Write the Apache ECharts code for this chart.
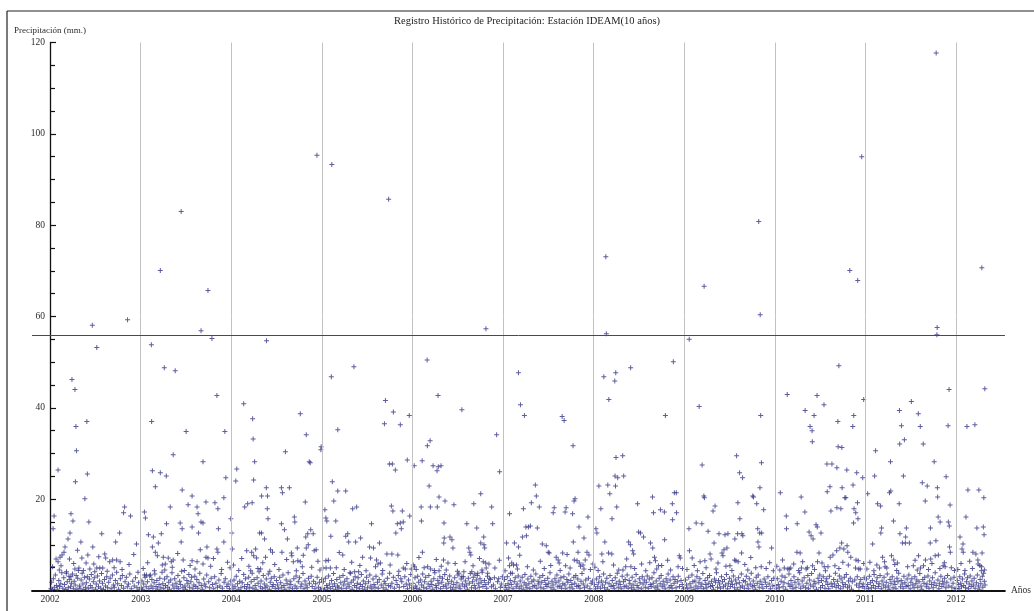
<!DOCTYPE html>
<html>
<head>
<meta charset="utf-8">
<title>Registro Histórico de Precipitación</title>
<script src="https://cdn.jsdelivr.net/npm/echarts@6/dist/echarts.min.js"></script>
<style>
  html, body { margin: 0; padding: 0; background: #ffffff; }
  #chart { width: 1034px; height: 611px; }
</style>
</head>
<body>
<div id="chart"></div>
<script>
// Daily precipitation (mm) per year, as [day of year, mm].
const years = [2002, 2003, 2004, 2005, 2006, 2007, 2008, 2009, 2010, 2011, 2012];
const referenceLevel = 56;

const rain2002 = [
  [170,58.1],[188,53.2],[312,59.3],[88,46.2],[100,44.0],[32,26.4],[104,35.9],[148,37.0],[106,30.6],[150,25.5],
  [102,23.8],[140,20.1],[16,16.3],[12,13.5],[84,16.8],[92,15.2],[80,12.6],[72,11.3],[60,9.5],[24,6.9],
  [32,6.3],[40,7.3],[48,7.8],[78,6.9],[44,5.4],[124,10.6],[156,15.0],[172,9.5],[128,7.1],[152,7.8],
  [208,12.4],[220,8.0],[280,12.6],[264,10.6],[300,18.3],[296,17.0],[324,16.3],[348,10.2],[252,6.7],[268,6.7],
  [282,6.3],[224,7.1],[240,6.3],[188,4.9],[200,4.9],[212,4.9],[180,4.1],[160,4.7],[100,4.7],[116,4.9],[84,3.0],
  [10,5.2],[37,4.5],[56,8.4],[65,3.8],[95,5.9],[110,8.8],[134,4.4],[145,6.0],[176,5.8],[196,7.4],[230,4.2],
  [258,5.0],[290,4.6],[318,5.7],[337,7.9],[354,4.0],
  [3,0.4],[6,1.8],[9,0.2],[13,2.6],[17,0.7],[21,3.4],[26,1.1],[29,0.3],[35,2.2],[38,0.9],[43,1.5],[47,3.9],
  [51,0.5],[55,2.8],[58,1.3],[63,0.2],[66,4.1],[69,1.9],[73,0.6],[76,3.1],[79,2.4],[82,0.8],[86,1.6],[90,3.6],
  [94,0.4],[97,2.0],[101,1.2],[105,3.3],[108,0.3],[111,2.7],[114,4.4],[118,1.0],[121,0.5],[125,2.3],[129,3.8],
  [132,1.4],[136,0.2],[139,2.9],[143,0.7],[146,1.7],[150,3.0],[154,0.4],[158,2.5],[162,1.1],[166,3.5],[169,0.6],
  [174,1.9],[178,2.8],[183,0.3],[186,1.4],[191,3.2],[195,0.8],[199,2.1],[204,0.5],[207,3.7],[211,1.6],[215,0.2],
  [219,2.4],[223,1.0],[228,3.0],[232,0.6],[236,1.8],[242,2.7],[246,0.4],[251,3.4],[255,1.2],[259,0.7],[263,2.2],
  [268,4.0],[272,1.5],[276,0.3],[283,2.6],[287,1.1],[291,3.3],[296,0.5],[302,1.9],[307,2.9],[311,0.8],[316,1.4],
  [321,3.6],[327,0.4],[333,2.0],[339,1.0],[344,2.8],[350,0.6],[356,1.7],[361,0.3]
];

const rain2003 = [
  [79,70.1],[163,83.0],[271,65.7],[243,56.9],[287,55.2],[43,53.8],[95,48.8],[139,48.1],[44,37.0],[183,34.8],
  [339,34.8],[307,42.7],[131,29.7],[251,28.2],[47,26.2],[79,25.8],[103,25.1],[59,22.7],[167,22.0],[207,20.7],
  [335,20.3],[343,24.7],[15,17.2],[19,15.9],[31,12.2],[51,11.7],[83,12.4],[47,9.5],[59,8.4],[71,10.4],
  [104,14.6],[119,18.3],[159,14.8],[167,13.5],[163,10.6],[191,18.8],[207,13.9],[227,18.3],[231,16.8],[233,12.6],
  [243,15.0],[251,14.8],[263,19.4],[267,9.5],[299,19.2],[311,17.9],[313,13.5],[335,10.6],[307,9.1],[311,8.4],
  [363,15.7],[91,7.3],[111,7.1],[123,6.3],[99,5.8],[87,5.6],[131,6.7],[171,6.7],[207,6.5],[227,6.3],
  [251,5.8],[263,7.3],[271,7.1],[15,3.4],[23,3.4],[39,3.4],
  [10,4.8],[28,6.1],[55,4.3],[67,7.6],[97,4.5],[127,5.1],[149,8.1],[176,4.4],[199,5.5],[219,4.7],[240,8.9],
  [282,5.3],[293,7.0],[326,4.6],[350,6.2],[360,5.0],
  [2,0.6],[5,2.1],[8,0.3],[12,1.4],[18,2.9],[22,0.8],[27,1.9],[33,0.4],[36,3.2],[42,1.0],[45,2.4],[49,0.5],
  [54,1.7],[57,3.6],[62,0.9],[65,2.2],[68,0.3],[74,1.3],[77,2.7],[81,0.6],[86,4.0],[89,1.5],[93,0.4],[96,2.5],
  [100,1.1],[106,3.0],[109,0.7],[113,1.8],[116,0.3],[121,2.3],[126,3.9],[129,1.2],[134,0.5],[137,2.6],[142,1.6],
  [146,0.8],[150,3.3],[153,0.4],[157,2.0],[161,1.3],[165,4.2],[170,0.6],[174,2.8],[178,1.0],[181,0.3],[186,2.2],
  [190,1.5],[194,3.5],[197,0.7],[202,1.9],[205,2.9],[210,0.4],[214,1.2],[218,3.1],[222,0.9],[226,2.4],[230,0.5],
  [235,1.7],[238,3.8],[244,1.1],[248,0.3],[254,2.5],[258,1.4],[262,0.8],[266,3.4],[274,1.9],[278,0.6],[284,2.7],
  [289,1.3],[294,0.4],[298,3.0],[303,1.6],[309,0.7],[315,2.3],[319,1.0],[324,3.7],[329,0.5],[336,1.8],[341,2.6],
  [347,0.9],[352,1.4],[358,0.4],[363,2.1]
];

const rain2004 = [
  [345,95.3],[142,54.7],[50,40.9],[86,37.6],[88,33.2],[94,28.2],[22,26.6],[18,24.0],[90,24.2],[218,30.4],
  [278,38.7],[302,34.1],[314,28.2],[318,28.0],[141,22.5],[202,22.5],[234,22.5],[206,21.4],[122,20.7],[362,31.5],
  [361,30.8],[146,20.7],[84,19.2],[54,18.3],[66,19.0],[298,19.4],[2,12.6],[4,9.1],[62,8.7],[82,8.4],
  [98,9.1],[114,12.6],[122,12.6],[134,11.3],[138,7.3],[148,15.7],[145,17.9],[90,7.6],[102,7.1],[158,8.9],
  [166,8.4],[202,14.6],[204,8.4],[214,13.3],[226,11.3],[242,8.2],[244,7.6],[254,16.1],[256,15.0],[266,9.3],
  [268,6.5],[302,9.3],[310,10.0],[334,8.7],[342,8.9],[300,11.7],[308,12.4],[330,12.4],[320,13.3],[278,6.3],
  [286,5.2],[250,6.3],[78,4.3],[118,4.7],
  [9,5.6],[30,4.4],[42,7.0],[71,5.3],[107,4.8],[127,6.1],[155,4.2],[175,5.7],[192,4.6],[223,6.8],[262,4.3],
  [290,7.7],[324,5.1],[349,6.4],[357,4.5],
  [3,1.2],[7,0.4],[11,2.3],[15,0.8],[20,3.1],[25,1.5],[28,0.3],[34,2.0],[39,0.6],[44,1.7],[50,3.5],[53,0.9],
  [57,2.6],[61,0.4],[66,1.3],[70,2.9],[74,0.7],[80,1.9],[84,3.8],[87,0.5],[92,2.4],[96,1.1],[100,0.3],[104,2.8],
  [108,1.6],[112,4.1],[117,0.8],[120,2.1],[125,0.4],[129,3.3],[133,1.4],[137,0.6],[141,2.5],[144,1.0],[149,3.6],
  [153,0.3],[157,1.8],[161,2.7],[165,0.9],[169,1.3],[173,3.0],[177,0.5],[182,2.2],[186,1.2],[190,0.4],[195,2.9],
  [199,1.7],[203,0.7],[208,3.4],[212,1.1],[216,0.3],[221,2.3],[225,1.5],[229,3.9],[233,0.6],[237,2.0],[240,1.3],
  [247,0.4],[252,2.6],[257,1.0],[261,3.2],[264,0.5],[270,1.9],[275,2.8],[280,0.8],[284,1.4],[289,3.7],[293,0.4],
  [297,2.1],[301,1.2],[306,0.6],[311,2.7],[315,1.6],[322,3.1],[326,0.9],[331,2.0],[337,0.4],[340,1.5],[346,2.9],
  [351,0.7],[355,1.8],[360,0.3],[364,2.4]
];

const rain2005 = [
  [40,93.3],[269,85.7],[38,46.8],[129,49.0],[256,41.6],[288,39.1],[352,38.3],[252,36.5],[316,36.3],[64,35.2],
  [42,23.8],[64,21.8],[96,21.8],[272,27.7],[284,27.7],[296,26.4],[344,28.6],[48,19.6],[56,15.2],[36,11.9],
  [124,17.9],[140,18.3],[104,12.4],[108,10.6],[136,10.6],[156,11.5],[200,14.6],[164,7.3],[192,9.5],[208,9.3],
  [232,10.4],[220,6.7],[236,6.0],[216,5.2],[280,18.5],[286,17.4],[304,14.6],[316,14.8],[328,15.0],[320,13.5],
  [298,12.6],[324,17.4],[354,16.3],[282,8.0],[306,7.8],[328,4.9],[336,4.7],[116,3.8],[132,4.1],[148,4.1],
  [84,7.8],[12,17.7],[16,15.9],[20,15.2],[96,11.9],[16,6.5],[17,4.9],[34,4.9],
  [4,4.9],[26,6.6],[58,5.0],[70,8.3],[90,4.6],[120,6.2],[153,5.5],[178,4.3],[196,7.1],[226,5.8],[245,4.4],
  [262,8.0],[275,5.6],[310,4.2],[342,5.9],[360,4.7],
  [2,0.5],[6,1.9],[10,0.3],[14,2.7],[19,1.1],[23,0.6],[27,3.2],[31,1.4],[35,0.4],[39,2.2],[44,0.9],[47,3.7],
  [51,1.5],[55,0.3],[60,2.4],[63,1.0],[68,0.6],[72,2.9],[76,1.7],[80,0.4],[85,3.3],[88,1.2],[92,2.0],[98,0.5],
  [101,2.6],[105,1.4],[110,0.8],[113,3.9],[118,1.8],[122,0.3],[127,2.3],[131,1.1],[134,3.0],[139,0.7],[143,1.6],
  [146,2.8],[151,0.4],[155,1.3],[159,3.5],[163,0.9],[167,2.1],[171,0.3],[175,1.5],[180,2.9],[184,0.6],[188,1.9],
  [193,3.4],[197,1.0],[201,0.4],[206,2.5],[210,1.3],[214,0.7],[218,3.1],[224,1.8],[227,0.5],[231,2.4],[239,1.2],
  [243,3.6],[247,0.6],[251,2.0],[255,1.5],[259,0.3],[264,2.7],[268,1.1],[273,3.8],[277,0.8],[282,1.6],[288,2.9],
  [292,0.5],[299,2.2],[303,1.3],[308,3.3],[312,0.7],[318,2.6],[322,1.9],[330,0.9],[334,3.0],[340,1.4],[345,0.4],
  [349,2.3],[353,1.2],[358,3.5],[362,0.6]
];

const rain2006 = [
  [59,50.5],[103,42.7],[199,39.6],[7,27.3],[39,28.4],[71,32.8],[60,31.7],[83,27.3],[104,27.1],[115,27.3],
  [99,26.2],[67,22.9],[107,20.5],[275,21.2],[296,57.3],[339,34.1],[351,26.0],[35,18.3],[72,18.3],[100,18.3],
  [131,19.6],[167,18.8],[36,15.2],[40,8.4],[127,14.8],[128,11.5],[126,10.4],[151,11.7],[159,11.1],[163,9.3],
  [125,6.7],[143,6.0],[219,14.6],[247,19.0],[259,13.7],[227,9.3],[231,8.4],[235,7.8],[287,11.7],[275,10.4],
  [288,10.0],[291,9.3],[285,6.3],[295,6.0],[297,4.9],[319,18.3],[323,14.6],[3,5.6],[8,5.2],[61,5.2],
  [73,4.7],[107,4.3],[187,3.8],[207,4.1],[199,3.0],[239,4.1],[251,3.6],[263,3.8],[303,3.8],[311,2.7],
  [15,4.6],[26,7.2],[47,5.0],[88,4.4],[96,6.8],[116,5.3],[136,4.5],[172,5.9],[181,4.2],[212,6.3],[244,5.4],
  [270,7.0],[280,4.5],[308,5.8],[332,4.9],[350,6.6],
  [1,1.6],[5,0.4],[10,2.8],[13,1.0],[17,0.5],[21,3.1],[25,1.8],[29,0.3],[33,2.3],[37,1.2],[41,3.6],[45,0.7],
  [49,1.9],[53,2.9],[57,0.4],[63,1.4],[66,3.3],[70,0.8],[75,2.0],[78,1.3],[82,0.3],[86,2.6],[90,3.9],[94,1.1],
  [97,0.6],[102,2.2],[106,1.5],[110,3.0],[113,0.4],[118,1.8],[121,2.7],[124,0.9],[130,3.5],[134,1.2],[138,0.5],
  [141,2.4],[146,1.6],[150,3.2],[154,0.7],[158,2.0],[162,0.3],[166,1.3],[170,2.8],[175,0.6],[179,1.7],[183,3.4],
  [188,1.0],[192,0.4],[196,2.5],[201,1.4],[205,3.0],[209,0.8],[213,2.1],[217,1.2],[221,0.3],[225,2.7],[229,1.6],
  [233,3.7],[238,0.6],[242,1.9],[245,2.9],[249,1.1],[254,0.4],[257,2.3],[261,3.3],[265,1.5],[269,0.7],[272,2.6],
  [277,1.8],[281,4.0],[284,0.9],[290,2.2],[293,1.3],[299,0.5],[302,3.1],[306,1.7],[314,2.4],[318,0.8],[326,1.2],
  [330,2.8],[334,0.4],[343,1.9],[347,2.6],[354,0.7],[358,1.4],[362,3.0]
];

const rain2007 = [
  [62,47.7],[70,40.7],[86,38.3],[238,38.1],[246,37.2],[282,31.7],[130,23.1],[134,20.7],[290,20.1],[26,16.8],
  [82,17.9],[114,19.2],[146,18.3],[14,10.4],[46,10.4],[62,9.5],[22,7.1],[26,5.4],[42,5.6],[54,5.6],
  [78,11.7],[94,12.0],[110,14.1],[102,13.9],[92,13.9],[138,13.7],[158,10.2],[174,9.8],[182,8.4],[186,8.2],
  [202,17.0],[206,18.1],[254,18.1],[250,17.2],[280,16.8],[286,19.6],[214,7.3],[222,6.7],[226,6.0],[240,8.2],
  [252,5.4],[306,13.9],[283,10.6],[287,6.7],[298,6.5],[307,6.0],[322,5.6],[326,4.7],[302,8.4],[326,11.5],
  [338,8.4],[346,7.8],[342,16.1],[30,3.8],
  [8,4.3],[35,6.0],[58,4.7],[67,7.7],[98,5.2],[122,4.5],[150,6.4],[166,4.8],[192,5.5],[230,4.4],[258,7.9],
  [270,4.9],[312,5.3],[331,6.7],[352,4.6],[362,5.8],
  [2,0.7],[6,2.4],[9,1.1],[13,0.3],[17,3.0],[20,1.5],[24,0.6],[29,2.2],[33,1.3],[37,3.8],[40,0.4],[45,1.9],
  [49,2.8],[53,0.8],[57,1.4],[61,3.2],[65,0.5],[69,2.1],[73,1.0],[77,2.9],[81,0.3],[85,1.7],[88,3.5],[92,1.2],
  [96,0.6],[100,2.5],[104,1.5],[108,0.4],[112,3.1],[116,1.9],[120,0.8],[124,2.3],[128,1.1],[132,3.6],[136,0.5],
  [141,2.0],[144,1.4],[148,2.9],[152,0.7],[156,1.8],[160,3.3],[164,0.4],[168,2.2],[172,1.3],[177,0.9],[180,2.7],
  [184,1.6],[189,3.9],[193,0.6],[197,2.0],[201,1.2],[205,0.3],[209,2.6],[213,1.7],[217,3.4],[221,0.8],[225,2.1],
  [229,1.0],[233,2.8],[236,0.5],[241,1.5],[245,3.0],[249,1.2],[253,0.4],[257,2.4],[261,1.8],[265,3.6],[269,0.7],
  [273,2.2],[277,1.3],[281,0.4],[285,2.9],[289,1.6],[293,3.3],[297,0.9],[301,2.5],[305,1.1],[310,0.5],[314,2.0],
  [318,3.7],[323,1.4],[328,0.6],[333,2.3],[339,1.0],[344,2.7],[350,0.4],[355,1.6],[360,2.1]
];

const rain2008 = [
  [49,73.1],[51,56.2],[41,46.8],[89,47.7],[85,45.9],[149,48.8],[61,41.8],[321,50.1],[289,38.3],[90,29.1],
  [117,29.5],[86,25.1],[97,24.7],[121,25.1],[21,22.9],[57,23.1],[88,22.9],[65,21.2],[237,20.5],[325,21.4],
  [29,17.9],[9,13.5],[13,12.6],[45,10.6],[33,8.0],[60,8.2],[73,8.0],[93,18.3],[74,15.7],[141,10.6],
  [148,10.0],[157,8.7],[161,8.0],[177,19.0],[181,12.8],[189,12.6],[201,11.7],[229,10.4],[238,9.3],[241,17.0],
  [269,17.7],[285,17.2],[286,11.1],[317,19.0],[318,15.5],[333,21.4],[334,17.0],[345,7.6],[349,7.1],[245,7.3],
  [249,6.5],[261,5.4],[118,4.5],[129,5.2],[150,5.2],
  [5,5.1],[18,4.4],[37,6.3],[80,5.6],[101,4.5],[133,6.9],[165,4.8],[193,5.8],[210,4.3],[226,6.1],[254,4.7],
  [274,5.5],[298,6.6],[310,4.5],[340,5.2],[358,4.8],
  [3,1.3],[7,0.4],[11,2.5],[16,0.8],[20,1.7],[24,3.0],[28,0.5],[32,2.1],[36,1.2],[40,3.6],[44,0.6],[48,1.8],
  [53,2.7],[56,0.3],[62,1.5],[66,3.3],[70,0.9],[75,2.2],[79,1.1],[83,0.4],[87,2.8],[91,1.6],[95,3.8],[99,0.7],
  [103,2.0],[107,1.3],[111,0.4],[115,3.1],[120,1.9],[123,0.8],[127,2.4],[131,1.0],[135,3.4],[139,0.5],[143,2.2],
  [146,1.5],[152,0.6],[155,2.9],[159,1.2],[163,0.3],[167,2.0],[171,3.5],[175,1.1],[179,0.6],[184,2.6],[187,1.7],
  [192,0.4],[196,3.0],[199,1.4],[204,2.3],[208,0.7],[212,1.8],[216,3.2],[220,0.5],[224,2.5],[228,1.3],[232,0.9],
  [235,2.8],[240,1.6],[243,3.9],[247,0.6],[252,2.1],[256,1.0],[259,0.3],[264,2.7],[268,1.5],[272,3.3],[276,0.8],
  [280,2.0],[284,1.2],[288,0.4],[292,2.6],[296,1.8],[300,3.6],[304,0.7],[308,2.3],[312,1.1],[316,0.5],[320,3.0],
  [324,1.6],[328,2.4],[332,0.6],[337,1.9],[341,3.1],[346,0.9],[352,2.2],[357,1.3],[362,0.4]
];

const rain2009 = [
  [20,55.0],[60,40.3],[80,66.6],[300,80.8],[306,60.4],[308,38.3],[72,27.5],[211,29.5],[223,25.8],[235,24.7],
  [311,28.0],[305,22.5],[279,20.5],[79,20.7],[81,20.3],[19,13.5],[21,8.7],[32,7.1],[48,14.8],[71,14.6],
  [96,13.0],[104,8.0],[108,6.9],[64,6.3],[83,6.5],[116,17.4],[124,18.5],[140,12.4],[164,12.2],[176,12.4],
  [152,8.2],[156,7.6],[160,8.9],[172,9.3],[120,10.4],[216,19.2],[224,15.7],[215,12.4],[232,12.4],[236,12.0],
  [204,11.3],[231,8.2],[276,20.7],[292,19.0],[320,17.7],[296,13.5],[304,12.6],[312,12.6],[297,10.6],[301,9.5],
  [310,5.2],[352,9.3],[203,6.7],[217,6.3],[184,5.4],
  [11,4.6],[40,5.5],[53,4.3],[88,5.0],[128,4.7],[136,6.0],[168,5.3],[192,4.4],[208,6.5],[244,5.7],[256,4.5],
  [268,7.2],[288,5.0],[330,4.8],[344,6.1],[359,4.3],
  [1,0.6],[5,2.3],[9,1.2],[14,0.4],[18,2.9],[23,1.5],[27,0.7],[31,3.4],[35,1.9],[39,0.3],[43,2.1],[47,1.0],
  [51,3.0],[55,0.5],[59,1.7],[63,2.6],[67,0.8],[71,1.4],[75,3.7],[78,0.4],[84,2.2],[87,1.3],[91,0.6],[94,2.8],
  [99,1.6],[102,3.3],[106,0.9],[110,2.0],[114,1.1],[118,0.3],[122,2.5],[126,1.8],[130,3.9],[134,0.7],[138,2.2],
  [142,1.4],[146,0.5],[150,3.0],[154,1.9],[158,0.8],[162,2.4],[166,1.2],[170,3.5],[174,0.4],[178,1.6],[182,2.7],
  [186,0.9],[190,2.0],[194,1.3],[198,3.2],[202,0.6],[206,2.3],[210,1.5],[214,0.3],[219,2.8],[222,1.7],[226,0.7],
  [230,3.6],[234,1.0],[238,2.2],[242,0.5],[246,1.9],[250,3.1],[254,1.2],[258,0.4],[262,2.6],[266,1.4],[270,3.8],
  [274,0.8],[278,2.1],[282,1.1],[286,0.3],[290,2.9],[294,1.6],[298,3.4],[302,0.7],[306,2.0],[313,1.3],[317,0.5],
  [322,2.5],[327,1.8],[332,0.9],[337,3.0],[342,1.4],[347,0.4],[352,2.2],[357,1.0],[361,2.7]
];

const rain2010 = [
  [302,70.1],[334,67.9],[350,95.0],[258,49.2],[50,42.9],[170,42.7],[198,40.7],[122,39.4],[158,38.3],[318,38.3],
  [254,37.0],[142,35.9],[150,35.0],[314,35.9],[151,32.6],[255,31.5],[270,31.3],[358,41.8],[210,27.7],[230,27.7],
  [250,26.9],[290,26.4],[330,25.8],[354,24.7],[315,23.1],[222,22.7],[211,21.6],[271,22.5],[282,20.3],[22,21.4],
  [106,20.5],[46,16.3],[47,13.5],[121,17.2],[90,14.6],[138,12.8],[146,12.0],[154,11.3],[166,14.4],[171,13.9],
  [186,12.6],[226,17.4],[250,18.1],[266,17.9],[286,20.3],[319,17.9],[326,17.0],[317,14.8],[335,15.7],[333,19.2],
  [89,8.4],[102,8.2],[178,8.2],[172,6.3],[223,7.3],[234,7.8],[249,8.7],[262,9.3],[269,10.4],[278,9.1],
  [291,9.8],[294,8.4],[306,7.3],[327,6.7],[336,6.5],[199,5.2],[214,5.2],[152,5.4],[126,4.7],[107,4.9],
  [38,4.9],[52,4.7],[58,4.7],[325,4.9],[338,4.7],
  [8,5.3],[20,4.5],[31,6.7],[64,4.9],[76,5.8],[96,4.4],[112,6.3],[131,5.0],[160,4.6],[190,6.0],[204,4.3],
  [242,5.4],[258,4.8],[274,6.2],[296,5.6],[344,4.7],[358,5.9],
  [2,1.1],[6,0.4],[10,2.6],[14,1.3],[18,0.6],[25,2.0],[29,3.2],[33,0.8],[37,1.7],[41,2.9],[44,0.3],[54,1.5],
  [57,3.6],[61,0.9],[65,2.2],[69,1.2],[73,0.4],[77,3.0],[81,1.8],[85,0.7],[93,2.4],[97,1.4],[100,3.9],[104,0.5],
  [110,2.1],[114,1.0],[118,2.8],[124,0.6],[129,1.6],[133,3.3],[136,0.4],[140,2.3],[144,1.2],[148,3.7],[155,0.8],
  [158,2.0],[162,1.5],[168,0.3],[174,2.7],[177,1.8],[181,3.4],[184,0.6],[188,2.2],[192,1.1],[195,3.0],[202,0.5],
  [206,1.9],[209,2.6],[213,1.3],[217,0.4],[220,3.1],[227,1.6],[231,0.9],[237,2.4],[240,1.4],[244,3.8],[247,0.7],
  [252,2.0],[256,1.1],[260,3.2],[264,0.4],[267,2.5],[273,1.7],[276,0.8],[280,2.9],[284,1.3],[288,3.5],[293,0.6],
  [297,2.1],[300,1.0],[304,2.7],[309,0.3],[312,1.9],[322,2.3],[329,1.2],[332,3.0],[339,0.7],[342,1.6],[346,2.4],
  [352,0.9],[356,1.4],[360,2.8],[363,0.5]
];

const rain2011 = [
  [285,117.7],[289,57.6],[288,56.0],[337,44.0],[137,39.4],[185,41.4],[213,38.7],[145,36.1],[221,35.9],[333,36.1],
  [138,32.1],[157,33.0],[233,32.1],[41,30.6],[101,28.2],[277,28.2],[37,25.1],[153,25.1],[325,24.9],[229,23.6],
  [249,22.9],[290,22.5],[102,21.8],[97,21.4],[291,20.5],[9,21.2],[49,19.0],[61,18.5],[29,10.2],[65,13.7],
  [62,12.6],[113,15.2],[136,19.0],[149,10.4],[161,10.4],[177,10.4],[165,13.7],[139,12.4],[162,11.7],[69,7.3],
  [77,6.3],[57,4.9],[79,5.2],[105,7.6],[114,6.7],[129,6.0],[241,19.6],[293,16.1],[301,15.0],[261,10.4],
  [284,10.9],[262,13.7],[341,18.7],[334,15.0],[338,14.1],[339,9.5],[342,8.4],[214,7.6],[242,6.7],[263,6.9],
  [281,7.6],[294,7.8],[313,5.4],[321,5.2],[193,5.4],[222,4.9],
  [6,4.7],[18,6.2],[34,4.3],[46,5.6],[86,4.9],[118,5.7],[126,4.4],[170,5.2],[200,6.6],[209,4.5],[234,5.4],
  [254,4.6],[268,5.9],[300,4.8],[318,6.1],[346,5.0],[359,4.4],
  [1,0.8],[4,2.5],[8,1.3],[12,0.4],[16,3.1],[20,1.7],[24,0.6],[28,2.2],[32,1.1],[35,3.5],[40,0.5],[44,1.9],
  [47,2.8],[52,0.9],[55,1.5],[59,3.3],[64,0.4],[67,2.1],[72,1.2],[75,2.9],[80,0.7],[84,1.8],[88,3.6],[92,1.0],
  [95,0.3],[99,2.4],[103,1.6],[108,3.0],[111,0.6],[116,2.0],[119,1.3],[123,0.4],[127,2.7],[131,1.9],[134,3.8],
  [141,0.8],[144,2.2],[148,1.4],[152,0.5],[155,3.1],[159,1.7],[164,0.9],[168,2.5],[172,1.1],[175,3.4],[180,0.4],
  [183,1.8],[187,2.6],[191,1.2],[196,0.6],[199,3.0],[203,1.5],[207,2.3],[211,0.7],[216,1.9],[219,3.7],[224,1.0],
  [227,0.3],[231,2.4],[236,1.6],[239,2.9],[245,0.8],[248,1.4],[252,3.2],[256,0.5],[259,2.1],[266,1.3],[270,2.8],
  [273,0.6],[277,1.7],[281,3.9],[285,1.1],[292,2.3],[296,0.4],[299,1.5],[304,3.1],[308,0.9],[311,2.0],[316,1.4],
  [319,2.7],[324,0.6],[328,1.8],[331,3.3],[336,1.0],[344,2.5],[348,0.7],[353,1.6],[357,2.9],[361,0.4]
];

const rain2012 = [
  [104,70.7],[116,44.2],[44,35.9],[76,36.3],[48,22.0],[92,22.0],[112,20.3],[16,11.7],[28,10.2],[40,16.1],
  [84,13.7],[110,13.9],[113,12.2],[29,8.4],[24,9.1],[68,8.4],[80,8.0],[105,8.2],[88,6.7],[89,5.8],
  [103,5.2],[115,4.5],[111,3.8],
  [7,4.6],[20,5.9],[36,4.4],[55,6.4],[66,4.8],[96,5.5],[102,4.3],
  [2,0.5],[5,2.2],[9,1.3],[12,0.4],[15,3.0],[19,1.6],[22,0.8],[26,2.5],[31,1.1],[34,3.6],[38,0.6],[42,1.9],
  [46,2.8],[50,0.4],[53,1.4],[57,3.2],[61,0.9],[64,2.1],[70,1.2],[73,2.7],[77,0.5],[82,1.7],[86,3.4],[90,1.0],
  [94,0.3],[97,2.4],[100,1.5],[106,3.1],[108,0.7],[114,2.0],[117,1.2]
];

const rainByYear = [rain2002, rain2003, rain2004, rain2005, rain2006, rain2007,
                    rain2008, rain2009, rain2010, rain2011, rain2012];

// Decimal-year x positions for every daily record
const points = [];
years.forEach((yr, i) => {
  rainByYear[i].forEach(([day, mm]) => points.push([yr + day / 365, mm]));
});

const serif = "'Liberation Serif', 'DejaVu Serif', serif";
const textColor = '#2b2b2b';

const chart = echarts.init(document.getElementById('chart'), null, { renderer: 'canvas' });

chart.setOption({
  backgroundColor: '#ffffff',
  animation: false,
  title: {
    text: 'Registro Histórico de Precipitación: Estación IDEAM(10 años)',
    left: 527,
    top: 16,
    padding: 0,
    textAlign: 'center',
    textStyle: { fontFamily: serif, fontSize: 10.5, fontWeight: 'normal', color: '#1e1e1e' }
  },
  graphic: [
    { type: 'line', shape: { x1: 7, y1: 11, x2: 1034, y2: 11 }, style: { stroke: '#222', lineWidth: 1.2 } },
    { type: 'line', shape: { x1: 7, y1: 11, x2: 7, y2: 611 }, style: { stroke: '#222', lineWidth: 1.2 } }
  ],
  grid: { left: 32, right: 22, top: 42.5, bottom: 20.5 },
  xAxis: {
    type: 'value',
    min: 2001.8,
    max: 2012.54,
    interval: 0.2,
    name: 'Años',
    nameLocation: 'end',
    nameGap: 6,
    nameTextStyle: { fontFamily: serif, fontSize: 9.5, color: textColor },
    axisLine: { show: true, lineStyle: { color: '#111', width: 1.8 } },
    axisTick: { show: false },
    splitLine: { show: false },
    axisLabel: {
      margin: 4,
      fontFamily: serif,
      fontSize: 9.5,
      color: textColor,
      formatter: v => (Math.abs(v - Math.round(v)) < 1e-6 ? String(Math.round(v)) : '')
    }
  },
  yAxis: {
    type: 'value',
    min: 0,
    max: 120,
    interval: 20,
    offset: -18,
    name: 'Precipitación (mm.)',
    nameLocation: 'end',
    nameGap: 7,
    nameTextStyle: { fontFamily: serif, fontSize: 9, color: textColor },
    axisLine: { show: true, lineStyle: { color: '#111', width: 1.3 } },
    axisTick: { show: true, inside: true, length: 6, lineStyle: { color: '#111', width: 1.2 } },
    minorTick: { show: true, splitNumber: 4, length: 5, lineStyle: { color: '#111', width: 1.2 } },
    splitLine: { show: false },
    axisLabel: {
      margin: 5,
      fontFamily: serif,
      fontSize: 9.5,
      color: textColor,
      formatter: v => (v === 0 ? '' : String(v))
    }
  },
  series: [{
    type: 'scatter',
    data: points,
    symbol: 'path://M2,0H3V2H5V3H3V5H2V3H0V2H2Z',
    symbolSize: 5,
    itemStyle: { color: '#343484' },
    silent: true,
    markLine: {
      silent: true,
      symbol: 'none',
      label: { show: false },
      data: years.slice(1).map(yr => ({ xAxis: yr, lineStyle: { color: '#c2c2c2', width: 1, type: 'solid' } }))
        .concat([{ yAxis: referenceLevel, lineStyle: { color: '#4a4a4a', width: 1, type: 'solid' } }])
    }
  }]
});
</script>
</body>
</html>
